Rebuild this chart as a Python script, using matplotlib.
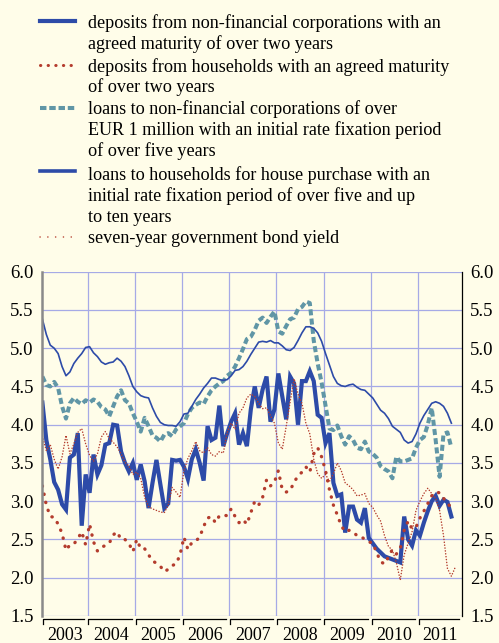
import matplotlib
matplotlib.use("Agg")
import matplotlib.pyplot as plt
from matplotlib.lines import Line2D
import matplotlib.transforms as mtransforms
import numpy as np

# monthly observations, Jan 2003 onwards
NFC_DEPOSITS = [
    4.29, 3.80, 3.55, 3.25, 3.15, 2.96, 2.89, 3.57, 3.61, 3.89, 2.68, 3.35,
    3.11, 3.61, 3.35, 3.47, 3.74, 3.76, 4.00, 3.99, 3.65, 3.50, 3.39, 3.50,
    3.28, 3.48, 3.26, 2.91, 3.24, 3.54, 3.22, 2.91, 2.97, 3.54, 3.53, 3.54,
    3.45, 3.29, 3.55, 3.68, 3.50, 3.27, 3.98, 3.80, 3.83, 4.25, 3.72, 3.89,
    4.04, 4.15, 3.74, 3.89, 3.72, 4.20, 4.50, 4.22, 4.46, 4.63, 4.04, 4.20,
    4.67, 4.37, 4.07, 4.63, 4.54, 4.00, 4.57, 4.57, 4.70, 4.57, 4.13, 4.09,
    3.76, 3.89, 3.24, 3.07, 3.09, 2.59, 2.93, 2.93, 2.76, 2.72, 2.91, 2.52,
    2.45, 2.38, 2.33, 2.28, 2.26, 2.24, 2.22, 2.20, 2.80, 2.50, 2.42, 2.62,
    2.55, 2.72, 2.87, 3.00, 3.07, 2.94, 3.02, 2.99, 2.80,
]
HH_DEPOSITS = [
    3.20, 2.95, 2.80, 2.79, 2.70, 2.58, 2.36, 2.43, 2.44, 2.51, 2.60, 2.43,
    2.70, 2.47, 2.35, 2.40, 2.42, 2.45, 2.56, 2.60, 2.50, 2.50, 2.45, 2.34,
    2.50, 2.38, 2.38, 2.30, 2.22, 2.19, 2.15, 2.08, 2.11, 2.16, 2.18, 2.30,
    2.53, 2.37, 2.46, 2.48, 2.53, 2.67, 2.78, 2.80, 2.72, 2.81, 2.82, 2.81,
    2.90, 2.80, 2.72, 2.76, 2.70, 2.85, 3.00, 2.95, 3.05, 3.28, 3.20, 3.25,
    3.40, 3.15, 3.12, 3.14, 3.25, 3.33, 3.38, 3.45, 3.38, 3.62, 3.70, 3.58,
    3.40, 3.15, 2.95, 2.82, 2.68, 2.60, 2.62, 2.60, 2.55, 2.54, 2.50, 2.47,
    2.45, 2.33, 2.21, 2.18, 2.27, 2.37, 2.31, 2.38, 2.62, 2.74, 2.64, 2.66,
    2.78, 2.87, 2.97, 3.07, 3.12, 3.11, 3.04, 2.97, 2.92,
]
NFC_LOANS = [
    4.63, 4.52, 4.50, 4.56, 4.48, 4.24, 4.08, 4.28, 4.35, 4.30, 4.27, 4.32,
    4.29, 4.33, 4.30, 4.23, 4.20, 4.11, 4.24, 4.37, 4.45, 4.32, 4.28, 4.15,
    4.04, 3.91, 4.09, 3.98, 3.86, 3.83, 3.78, 3.87, 3.89, 3.85, 3.94, 3.98,
    4.02, 4.14, 4.22, 4.26, 4.29, 4.27, 4.37, 4.45, 4.50, 4.54, 4.57, 4.64,
    4.68, 4.76, 4.87, 4.99, 5.12, 5.15, 5.24, 5.36, 5.40, 5.33, 5.41, 5.48,
    5.22, 5.19, 5.29, 5.38, 5.40, 5.51, 5.54, 5.61, 5.59, 5.10, 4.80, 4.55,
    4.25, 3.95, 3.93, 3.99, 3.85, 3.74, 3.85, 3.80, 3.70, 3.68, 3.78, 3.65,
    3.62, 3.57, 3.46, 3.42, 3.39, 3.30, 3.58, 3.52, 3.52, 3.54, 3.56, 3.70,
    3.80, 3.84, 4.00, 4.22, 3.80, 3.32, 3.88, 3.90, 3.70,
]
HOUSE_LOANS = [
    5.38, 5.18, 5.04, 5.00, 4.93, 4.76, 4.64, 4.69, 4.80, 4.87, 4.93, 5.01,
    5.02, 4.94, 4.89, 4.82, 4.79, 4.81, 4.82, 4.87, 4.83, 4.76, 4.64, 4.50,
    4.43, 4.38, 4.36, 4.35, 4.22, 4.11, 4.03, 4.00, 3.99, 3.99, 3.98, 4.04,
    4.14, 4.15, 4.24, 4.33, 4.40, 4.48, 4.54, 4.61, 4.61, 4.59, 4.58, 4.59,
    4.64, 4.71, 4.72, 4.76, 4.83, 4.92, 5.00, 5.08, 5.09, 5.08, 5.10, 5.07,
    5.07, 5.03, 4.98, 4.97, 5.01, 5.10, 5.20, 5.28, 5.28, 5.26, 5.20, 5.09,
    4.93, 4.78, 4.63, 4.54, 4.51, 4.50, 4.52, 4.53, 4.49, 4.46, 4.45, 4.40,
    4.35, 4.27, 4.19, 4.15, 4.08, 3.98, 3.94, 3.90, 3.80, 3.76, 3.78, 3.88,
    4.02, 4.12, 4.20, 4.28, 4.30, 4.28, 4.24, 4.15, 4.02,
]
BOND_YIELD = [
    3.85, 3.66, 3.74, 3.55, 3.42, 3.58, 3.86, 3.62, 3.75, 3.90, 3.95, 3.75,
    3.60, 3.52, 3.62, 3.84, 3.91, 3.82, 3.77, 3.71, 3.62, 3.51, 3.46, 3.35,
    3.38, 3.30, 3.05, 2.93, 2.90, 2.88, 2.86, 2.85, 2.95, 3.18, 3.12, 3.05,
    3.40, 3.56, 3.66, 3.78, 3.66, 3.63, 3.70, 3.61, 3.59, 3.65, 3.63, 3.90,
    4.02, 3.94, 4.15, 4.22, 4.35, 4.40, 4.37, 4.28, 4.21, 4.22, 4.12, 4.02,
    3.76, 3.68, 3.98, 4.30, 4.60, 4.40, 4.28, 4.02, 3.88, 3.55, 3.36, 3.30,
    3.35, 3.26, 3.36, 3.50, 3.40, 3.24, 3.20, 3.15, 3.07, 3.08, 3.10, 2.97,
    2.92, 2.82, 2.74, 2.55, 2.41, 2.36, 2.20, 1.97, 2.30, 2.45, 2.60, 2.88,
    3.00, 3.10, 3.17, 3.10, 3.04, 2.88, 2.55, 2.12, 2.02, 2.14,
]

YEARS = ["2003", "2004", "2005", "2006", "2007", "2008", "2009", "2010", "2011"]
Y_TICKS = [1.5, 2.0, 2.5, 3.0, 3.5, 4.0, 4.5, 5.0, 5.5, 6.0]

LEGEND_LABELS = [
    ["deposits from non-financial corporations with an",
     "agreed maturity of over two years"],
    ["deposits from households with an agreed maturity",
     "of over two years"],
    ["loans to non-financial corporations of over",
     "EUR 1 million with an initial rate fixation period",
     "of over five years"],
    ["loans to households for house purchase with an",
     "initial rate fixation period of over five and up",
     "to ten years"],
    ["seven-year government bond yield"],
]

BG = "#fffde9"
BLUE = "#2d4ba8"
RED = "#b43c2d"
TEAL = "#6096a6"
GRID = "#a6aae6"
FONT = "Liberation Serif"

W, H = 499, 643


def fx(px):
    return px / W


def fy(py):
    return 1 - py / H


def main() -> None:
    plt.rcParams["font.family"] = FONT
    fig = plt.figure(figsize=(W / 100, H / 100), dpi=100, facecolor=BG)
    ax = fig.add_axes([fx(42), fy(616), fx(462) - fx(42), fy(271.7) - fy(616)])
    ax.set_facecolor(BG)

    styles = [
        dict(color=BLUE, lw=3.0, solid_joinstyle="miter"),
        dict(color=RED, lw=2.4, linestyle=(0, (0.1, 2.4)), dash_capstyle="round"),
        dict(color=TEAL, lw=2.9, linestyle=(0, (1.5, 0.8))),
        dict(color=BLUE, lw=1.2),
        dict(color=RED, lw=1.1, linestyle=(0, (0.1, 1.8)), dash_capstyle="round"),
    ]
    series = [NFC_DEPOSITS, HH_DEPOSITS, NFC_LOANS, HOUSE_LOANS, BOND_YIELD]
    for values, style in zip(series, styles):
        x = np.arange(len(values)) + 0.5
        ax.plot(x, values, **style)

    ax.set_xlim(0.4, 107.2)
    ax.set_ylim(1.5, 6.0)
    ax.set_xticks([12 * k for k in range(1, len(YEARS))])
    ax.set_xticklabels([])
    ax.set_yticks(Y_TICKS)
    ax.set_yticklabels([f"{v:.1f}" for v in Y_TICKS])
    ax.tick_params(axis="x", length=0)
    ax.tick_params(axis="y", length=0, labelsize=13.5, pad=6,
                   labelleft=True, labelright=True)
    ax.grid(True, color=GRID, lw=0.9)
    ax.set_axisbelow(True)
    for side in ["top", "bottom"]:
        ax.spines[side].set_visible(False)
    ax.spines["left"].set_color("#8a8a8a")
    ax.spines["left"].set_linewidth(1.8)
    ax.spines["right"].set_color("black")
    ax.spines["right"].set_linewidth(0.9)

    # year brackets under the plot
    trans = mtransforms.blended_transform_factory(ax.transData, ax.transAxes)
    y_line = -3.0 / 344
    y_tick = -8.0 / 344
    for k, year in enumerate(YEARS):
        start = max(12 * k, 0.4) + 0.2
        end = min(12 * (k + 1), 107.2) - 0.8
        ax.plot([start, start, end], [y_tick, y_line, y_line], color="black",
                lw=0.9, transform=trans, clip_on=False)
        mid = (max(12 * k, 0.4) + min(12 * (k + 1), 107.2)) / 2
        ax.text(mid, -19.0 / 344, year, transform=trans, ha="center",
                va="center", fontsize=13)

    # legend drawn by hand at the top
    legend_lines = [21.3, 65.0, 108.3, 171.3, 236.7]
    baselines = [
        [28.3, 49.0],
        [71.7, 92.3],
        [114.3, 135.0, 155.7],
        [180.0, 201.0, 221.7],
        [242.7],
    ]
    legend_styles = [
        dict(color=BLUE, lw=3.0),
        dict(color=RED, lw=2.2, linestyle=(0, (0.1, 2.4)), dash_capstyle="round"),
        dict(color=TEAL, lw=2.9, linestyle=(0, (1.6, 0.7))),
        dict(color=BLUE, lw=2.6),
        dict(color=RED, lw=1.1, linestyle=(0, (0.1, 5.0)), dash_capstyle="round"),
    ]
    for ly, style, lines, bases in zip(legend_lines, legend_styles,
                                       LEGEND_LABELS, baselines):
        fig.add_artist(Line2D([fx(40), fx(75)], [fy(ly), fy(ly)],
                              transform=fig.transFigure, **style))
        for text, base in zip(lines, bases):
            fig.text(fx(88), fy(base), text, ha="left", va="baseline",
                     fontsize=13.1)

    fig.savefig("out.png", dpi=100, facecolor=BG)
    plt.close(fig)


if __name__ == "__main__":
    main()
